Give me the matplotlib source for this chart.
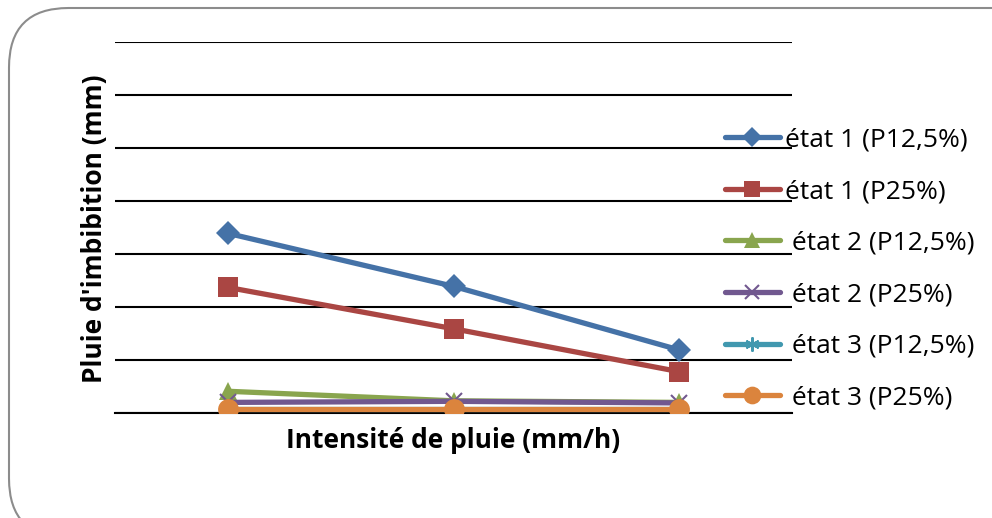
import matplotlib
matplotlib.use("Agg")
import matplotlib.pyplot as plt
from matplotlib.patches import FancyBboxPatch

plt.rcParams['font.family'] = ['Open Sans', 'DejaVu Sans']

categories = ["1", "2", "3"]
series_names = ["état 1 (P12,5%)", "état 1 (P25%)", " état 2 (P12,5%)",
                " état 2 (P25%)", " état 3 (P12,5%)", " état 3 (P25%)"]
etat1_p125 = [3.39, 2.39, 1.19]
etat1_p25 = [2.37, 1.59, 0.78]
etat2_p125 = [0.41, 0.23, 0.20]
etat2_p25 = [0.20, 0.22, 0.19]
etat3_p125 = [0.08, 0.08, 0.08]
etat3_p25 = [0.08, 0.08, 0.08]

colors = ["#4572A7", "#AA4643", "#89A54E", "#71588F", "#4198AF", "#DB843D"]
markers = ["D", "s", "^", "x", (6, 2, 0), "o"]
msizes = [12, 14, 13, 12, 12, 15]
values = [etat1_p125, etat1_p25, etat2_p125, etat2_p25, etat3_p125, etat3_p25]

fig = plt.figure(figsize=(9.92, 5.18), dpi=100)
ax = fig.add_axes([115/992, 1-413/518, (792-115)/992, (413-42)/518])

x = list(range(len(categories)))
for i, (vals, name, c, m, ms) in enumerate(zip(values, series_names, colors, markers, msizes)):
    ax.plot(x, vals, color=c, lw=3.8, marker=m, ms=ms, mew=1.5 if i in (3, 4) else 0,
            mec=c, label=name, solid_capstyle='round', zorder=3)

ax.set_xlim(-0.5, 2.5)
ax.set_ylim(0, 7)
ax.set_yticks(range(0, 8))
ax.yaxis.grid(True, color='black', lw=1.5)
ax.set_axisbelow(True)
ax.tick_params(left=False, bottom=False, labelleft=False, labelbottom=False)
for s in ['left', 'right', 'top']:
    ax.spines[s].set_visible(False)
ax.spines['bottom'].set_linewidth(1.5)
ax.set_xticks(x)
ax.set_xticklabels(categories)

fig.text(95/992, 1-229/518, "Pluie d'imbibition (mm)", rotation=90, ha='center', va='center',
         fontsize=19, fontweight='bold')
fig.text(453/992, 1-440/518, "Intensité de pluie (mm/h)", ha='center', va='center',
         fontsize=19, fontweight='bold')

leg = fig.legend(loc='center left', bbox_to_anchor=(725/992, 1-269/518), frameon=False,
                 fontsize=19, handlelength=2.08, handletextpad=0.2, labelspacing=1.01,
                 borderpad=0, borderaxespad=0, markerscale=0.85)

box = FancyBboxPatch((9/992, -20/518), 1.2, (510+20)/518,
                     boxstyle="round,pad=0,rounding_size=0.06",
                     transform=fig.transFigure, fill=False, ec='#8c8c8c', lw=1.5,
                     mutation_aspect=992/518)
fig.patches.append(box)

fig.savefig("out.png", dpi=100)
